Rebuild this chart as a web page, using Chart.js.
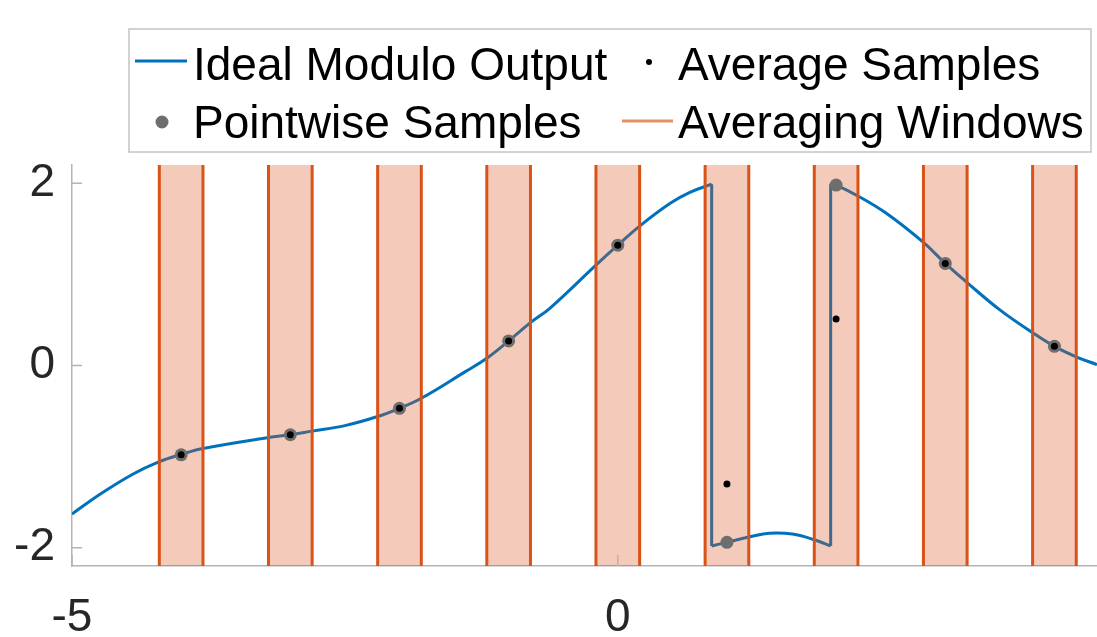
<!DOCTYPE html>
<html>
<head>
<meta charset="utf-8">
<title>Modulo samples</title>
<script src="https://cdn.jsdelivr.net/npm/chart.js@4.4.0/dist/chart.umd.min.js"></script>
<style>
  body { margin: 0; background: #fff; }
</style>
</head>
<body>
<canvas id="myChart" width="1097" height="637"></canvas>
<script>
// ideal modulo output, three pieces between the wraps
var risingX = [-5, -4.74, -4.44, -4.21, -4, -3.8, -3.2, -3, -2.8, -2.5, -2.2, -2, -1.8, -1.4, -1.2, -1, -0.8, -0.62, -0.21, 0, 0.2, 0.48, 0.66, 0.86];
var risingY = [-1.63, -1.41, -1.19, -1.06, -0.975, -0.91, -0.79, -0.76, -0.72, -0.66, -0.56, -0.47, -0.36, -0.07, 0.08, 0.27, 0.47, 0.63, 1.09, 1.32, 1.53, 1.78, 1.9, 1.99];
var wrappedX = [0.86, 1, 1.21, 1.39, 1.6, 1.82, 1.95];
var wrappedY = [-1.98, -1.94, -1.88, -1.84, -1.85, -1.92, -1.98];
var fallingX = [1.95, 2, 2.2, 2.46, 2.8, 3, 3.2, 3.5, 3.8, 4, 4.21, 4.39];
var fallingY = [1.99, 1.98, 1.86, 1.67, 1.35, 1.12, 0.91, 0.61, 0.36, 0.21, 0.09, 0.01];

// samples and averaging windows
var sampleX = [-4, -3, -2, -1, 0, 1, 2, 3, 4];
var pointwiseY = [-0.98, -0.76, -0.47, 0.27, 1.32, -1.94, 1.98, 1.12, 0.21];
var averageY = [-0.98, -0.76, -0.47, 0.27, 1.32, -1.30, 0.51, 1.12, 0.21];
var windowStart = [-4.2, -3.2, -2.2, -1.2, -0.2, 0.8, 1.8, 2.8, 3.8];
var windowEnd = [-3.8, -2.8, -1.8, -0.8, 0.2, 1.2, 2.2, 3.2, 4.2];

var xTicks = [-5, 0];
var yTicks = [-2, 0, 2];
var xMin = -5, xMax = 4.39;
var yMin = -2.2, yMax = 2.2;

var blue = "#0072BD";
var orange = "#D95319";
var windowFill = "rgba(217, 83, 25, 0.3)";
var grey = "#6e6e6e";
var axisColor = "#b4b4b4";
var font = "'Liberation Sans', Arial, sans-serif";

function toPoints(xs, ys) {
  var pts = [];
  for (var i = 0; i < xs.length; i++) {
    pts.push({x: xs[i], y: ys[i]});
  }
  return pts;
}

var last = function(a) { return a[a.length - 1]; };

// curve pieces separated by gaps
var curve = toPoints(risingX, risingY)
  .concat([{x: last(risingX), y: null}])
  .concat(toPoints(wrappedX, wrappedY))
  .concat([{x: last(wrappedX), y: null}])
  .concat(toPoints(fallingX, fallingY));

// vertical wrap lines joining the pieces
var jumps = [
  {x: last(risingX), y: last(risingY)}, {x: wrappedX[0], y: wrappedY[0]},
  {x: wrappedX[0], y: null},
  {x: last(wrappedX), y: last(wrappedY)}, {x: fallingX[0], y: fallingY[0]}
];

var datasets = [
  {
    label: "Ideal Modulo Output",
    data: curve,
    borderColor: blue,
    borderWidth: 3,
    pointRadius: 0,
    tension: 0.4,
    spanGaps: false,
    order: 5
  },
  {
    label: "wraps",
    data: jumps,
    borderColor: blue,
    borderWidth: 3,
    pointRadius: 0,
    tension: 0,
    spanGaps: false,
    order: 5
  },
  {
    label: "Pointwise Samples",
    data: toPoints(sampleX, pointwiseY),
    showLine: false,
    pointRadius: 6.5,
    pointBorderWidth: 0,
    pointBackgroundColor: grey,
    order: 1
  },
  {
    label: "Average Samples",
    data: toPoints(sampleX, averageY),
    showLine: false,
    pointRadius: 3.5,
    pointBorderWidth: 0,
    pointBackgroundColor: "#000",
    order: 0
  }
];

for (var i = 0; i < windowStart.length; i++) {
  datasets.push({
    label: "Averaging Windows",
    data: [
      {x: windowStart[i], y: yMin}, {x: windowStart[i], y: yMax},
      {x: windowEnd[i], y: yMax}, {x: windowEnd[i], y: yMin}
    ],
    fill: "start",
    backgroundColor: windowFill,
    borderColor: orange,
    borderWidth: 3,
    pointRadius: 0,
    tension: 0,
    segment: {
      borderColor: function(c) {
        return c.p0.parsed.y === c.p1.parsed.y ? "rgba(0,0,0,0)" : orange;
      }
    },
    order: 2
  });
}

// inward tick marks like the original axes
var innerTicks = {
  id: "innerTicks",
  afterDraw: function(chart) {
    var c = chart.ctx;
    var area = chart.chartArea;
    c.save();
    c.strokeStyle = axisColor;
    c.lineWidth = 1.5;
    c.beginPath();
    yTicks.forEach(function(v) {
      var py = chart.scales.y.getPixelForValue(v);
      c.moveTo(area.left, py);
      c.lineTo(area.left + 10, py);
    });
    xTicks.forEach(function(v) {
      var px = chart.scales.x.getPixelForValue(v);
      c.moveTo(px, area.bottom);
      c.lineTo(px, area.bottom - 11);
    });
    c.stroke();
    c.restore();
  }
};

// boxed 2x2 legend
var boxLegend = {
  id: "boxLegend",
  afterDraw: function(chart) {
    var c = chart.ctx;
    c.save();
    c.fillStyle = "#fff";
    c.fillRect(129, 29, 962, 123);
    c.strokeStyle = "#c4c4c4";
    c.lineWidth = 1.5;
    c.strokeRect(129, 29, 962, 123);

    c.lineWidth = 3;
    c.strokeStyle = blue;
    c.beginPath(); c.moveTo(135, 61); c.lineTo(187, 61); c.stroke();

    c.strokeStyle = "rgba(217, 83, 25, 0.65)";
    c.beginPath(); c.moveTo(622, 121); c.lineTo(673, 121); c.stroke();

    c.fillStyle = "#000";
    c.beginPath(); c.arc(649, 62, 3, 0, Math.PI * 2); c.fill();
    c.fillStyle = grey;
    c.beginPath(); c.arc(162, 122, 6.5, 0, Math.PI * 2); c.fill();

    c.fillStyle = "#000";
    c.font = "46px " + font;
    c.textBaseline = "alphabetic";
    c.textAlign = "left";
    c.fillText(datasets[0].label, 193, 80);
    c.fillText(datasets[3].label, 678, 80);
    c.fillText(datasets[2].label, 193, 138);
    c.fillText(datasets[4].label, 678, 138);
    c.restore();
  }
};

var ctx = document.getElementById("myChart");

var chart = new Chart(ctx, {
  type: "line",
  data: { datasets: datasets },
  options: {
    responsive: false,
    animation: false,
    layout: { autoPadding: false, padding: { top: 165, left: 0, right: 0, bottom: 0 } },
    plugins: {
      legend: { display: false },
      tooltip: { enabled: false }
    },
    scales: {
      x: {
        type: "linear",
        min: xMin,
        max: xMax,
        afterBuildTicks: function(scale) {
          scale.ticks = xTicks.map(function(v) { return {value: v}; });
        },
        afterFit: function(scale) { scale.height = 71; },
        grid: { display: true, drawOnChartArea: false, drawTicks: false },
        border: { display: true, color: axisColor, width: 1.5 },
        ticks: {
          padding: 25,
          maxRotation: 0,
          color: "#262626",
          font: { size: 46, family: font }
        }
      },
      y: {
        type: "linear",
        min: yMin,
        max: yMax,
        afterBuildTicks: function(scale) {
          scale.ticks = yTicks.map(function(v) { return {value: v}; });
        },
        afterFit: function(scale) { scale.width = 72; },
        grid: { display: true, drawOnChartArea: false, drawTicks: false },
        border: { display: true, color: axisColor, width: 1.5 },
        ticks: {
          padding: 17,
          color: "#262626",
          font: { size: 46, family: font }
        }
      }
    }
  },
  plugins: [innerTicks, boxLegend]
});
</script>
</body>
</html>
